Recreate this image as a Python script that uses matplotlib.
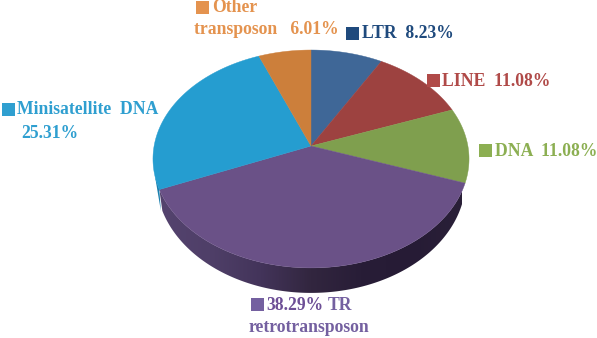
import numpy as np
import matplotlib
matplotlib.use('Agg')
import matplotlib.pyplot as plt
from matplotlib.colors import LinearSegmentedColormap
from matplotlib.patches import Polygon, Rectangle

labels = ['LTR', 'LINE', 'DNA', 'TR retrotransposon', 'Minisatellite DNA', 'Other transposon']
values = [8.23, 11.08, 11.08, 38.29, 25.31, 6.01]
colors = ['#3f6797', '#9d4240', '#7f9f4e', '#6a5187', '#259dd0', '#cc7f3b']

# pie geometry, in image pixels
cx, cy = 311, 146
rx, ry = 156.9, 107.4
persp = 0.119


def project(theta):
    # theta clockwise from 12 o'clock, far side of the disc drawn smaller
    u, v = np.sin(theta), np.cos(theta)
    w = 1 / (1 + persp * v)
    return cx + rx * u * w, cy - ry * v * w


def project_low(theta):
    # lower rim of the wall, a bit narrower than the top face
    x, y = project(theta)
    return cx + (x - cx) * 0.98, y + 19 - 6 * np.cos(theta)


fig = plt.figure(figsize=(5.97, 3.38), dpi=100)
ax = fig.add_axes([0, 0, 1, 1])
ax.axis('off')

edges = np.cumsum([0] + values) / 100 * 2 * np.pi

# side wall of the purple slice, shaded along x
th = np.linspace(edges[3], edges[4], 200)
top_x, top_y = project(th)
low_x, low_y = project_low(th)
wall = Polygon(list(zip(top_x, top_y)) + list(zip(low_x, low_y))[::-1], closed=True, fc='none', ec='none')
ax.add_patch(wall)
wall_cmap = LinearSegmentedColormap.from_list(
    'wall', ['#2a2038', '#261b35', '#281d37', '#32263f', '#43345a', '#4f3f68', '#54436e'])
img = ax.imshow(np.linspace(0, 1, 256)[None, :], cmap=wall_cmap, extent=(462, 160, 300, 180),
                aspect='auto', zorder=2, interpolation='bilinear')
img.set_clip_path(wall)

# thin bit of the blue wall at the far left
a = edges[4]
blue_x, blue_y = project(np.array([a, a + 0.12]))
low_bx, low_by = project_low(a)
ax.add_patch(Polygon([(blue_x[0], blue_y[0]), (blue_x[1], blue_y[1]), (low_bx - 1.5, low_by)],
                     closed=True, fc='#1a7fae', ec='none', zorder=1))

# top face
for i in range(len(values)):
    t = np.linspace(edges[i], edges[i + 1], 80)
    xs, ys = project(t)
    pts = [(cx, cy)] + list(zip(xs, ys))
    ax.add_patch(Polygon(pts, closed=True, fc=colors[i], ec=colors[i], lw=0.3, zorder=3))

ax.set_xlim(0, 597)
ax.set_ylim(338, 0)

font = dict(family='Liberation Serif', fontweight='bold', fontsize=12.7, va='center', ha='left')


def key(x, y, size, color):
    ax.add_patch(Rectangle((x, y), size, size, fc=color, ec='none', zorder=4))


key(196, 1, 13, '#e4934f')
ax.text(212, 8, 'Other', color='#e4934f', **font)
ax.text(194, 30, f'transposon   {values[5]:.2f}%', color='#e4934f', **font)

key(346, 27, 13, '#1f4a7d')
ax.text(362, 34, f'LTR  {values[0]:.2f}%', color='#1f4a7d', **font)

key(427, 74, 13, '#b04a48')
ax.text(442, 82, f'LINE  {values[1]:.2f}%', color='#b04a48', **font)

key(479, 144, 13, '#8caf52')
ax.text(495, 151, f'DNA  {values[2]:.2f}%', color='#8caf52', **font)

key(2, 103, 13, '#2f9fd0')
ax.text(17, 110, 'Minisatellite  DNA', color='#2f9fd0', **font)
ax.text(21, 133, f'{values[4]:.2f}%', color='#2f9fd0', **font)

key(251, 298, 13, '#7460a0')
ax.text(266, 305, f'{values[3]:.2f}%', color='#6d4f96', **font)
ax.text(328, 305, 'TR', color='#7460a0', **font)
ax.text(249, 327, 'retrotransposon', color='#7460a0', **font)

fig.savefig('out.png', dpi=100)
